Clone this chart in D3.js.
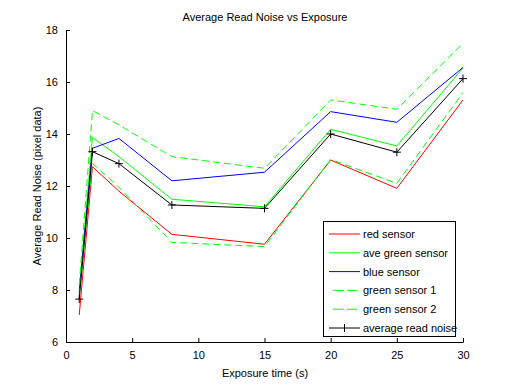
<!DOCTYPE html>
<html><head><meta charset="utf-8">
<script src="https://cdn.jsdelivr.net/npm/d3@7/dist/d3.min.js"></script>
<style>body{margin:0;background:#fff}svg{display:block}text{font-family:"Liberation Sans",Arial,sans-serif}</style>
</head><body>
<script>
const exposure = [1, 2, 4, 8, 15, 20, 25, 30];
const redSensor = [7.04, 12.74, 11.8, 10.14, 9.76, 13.0, 11.91, 15.31];
const aveGreen = [8.0, 13.87, 13.13, 11.49, 11.2, 14.18, 13.54, 16.54];
const blueSensor = [7.9, 13.45, 13.83, 12.2, 12.53, 14.86, 14.45, 16.56];
const green1 = [8.2, 14.9, 14.35, 13.13, 12.68, 15.31, 14.95, 17.49];
const green2 = [7.8, 12.87, 11.95, 9.83, 9.67, 13.02, 12.1, 15.59];
const averageNoise = [7.65, 13.32, 12.86, 11.27, 11.14, 14.0, 13.3, 16.13];
const xTicks = [0, 5, 10, 15, 20, 25, 30];
const yTicks = [6, 8, 10, 12, 14, 16, 18];
const seriesNames = ["red sensor", "ave green sensor", "blue sensor", "green sensor 1", "green sensor 2", "average read noise"];

const W = 512, H = 385;
const svg = d3.select("body").append("svg").attr("width", W).attr("height", H);
const x = d3.scaleLinear().domain([0, 30]).range([66, 463]);
const y = d3.scaleLinear().domain([6, 18]).range([342, 30]);

const series = [
  {name: seriesNames[0], vals: redSensor, color: "#ff0000", dash: null},
  {name: seriesNames[1], vals: aveGreen, color: "#00ff00", dash: null},
  {name: seriesNames[2], vals: blueSensor, color: "#0000ff", dash: null},
  {name: seriesNames[3], vals: green1, color: "#00ff00", dash: "7,4"},
  {name: seriesNames[4], vals: green2, color: "#00ff00", dash: "7,4"},
  {name: seriesNames[5], vals: averageNoise, color: "#000000", dash: null, marker: true}
];

const line = d3.line().x(d => x(d[0])).y(d => y(d[1]));
series.forEach(s => {
  const pts = exposure.map((e, i) => [e, s.vals[i]]);
  svg.append("path").attr("d", line(pts)).attr("fill", "none")
    .attr("stroke", s.color).attr("stroke-width", 1)
    .attr("stroke-dasharray", s.dash);
  if (s.marker) {
    pts.forEach(p => {
      const cx = x(p[0]), cy = y(p[1]);
      svg.append("path").attr("d", `M${cx-4},${cy}H${cx+4}M${cx},${cy-4}V${cy+4}`)
        .attr("stroke", s.color).attr("stroke-width", 1);
    });
  }
});

// axes
const xAxis = d3.axisBottom(x).tickValues(xTicks).tickSizeInner(-4).tickSizeOuter(0).tickPadding(9);
const yAxis = d3.axisLeft(y).tickValues(yTicks).tickSizeInner(-4).tickSizeOuter(0).tickPadding(8);
const gx = svg.append("g").attr("transform", "translate(0,342)").call(xAxis);
const gy = svg.append("g").attr("transform", "translate(66,0)").call(yAxis);
[gx, gy].forEach(g => {
  g.selectAll("text").attr("font-size", 11).attr("fill", "#000")
    .style("font-family", '"Liberation Sans",Arial,sans-serif');
  g.selectAll("line,path").attr("stroke", "#000");
});

svg.append("text").attr("x", 265).attr("y", 21).attr("text-anchor", "middle")
  .attr("font-size", 11).text("Average Read Noise vs Exposure");
svg.append("text").attr("x", 265).attr("y", 377).attr("text-anchor", "middle")
  .attr("font-size", 11).text("Exposure time (s)");
svg.append("text").attr("transform", "translate(41,186) rotate(-90)").attr("text-anchor", "middle")
  .attr("font-size", 11).text("Average Read Noise (pixel data)");

// legend
const lg = svg.append("g");
lg.append("rect").attr("x", 323.5).attr("y", 221.5).attr("width", 132).attr("height", 115)
  .attr("fill", "#fff").attr("stroke", "#000");
series.forEach((s, i) => {
  const ly = 234 + i * 18.8;
  lg.append("line").attr("x1", s.dash ? 333 : 329).attr("x2", s.dash ? 357 : 360).attr("y1", ly).attr("y2", ly)
    .attr("stroke", s.color).attr("stroke-dasharray", s.dash ? "11,3" : null);
  if (s.marker) {
    lg.append("path").attr("d", `M344.5,${ly-4}V${ly+4}`).attr("stroke", s.color);
  }
  lg.append("text").attr("x", 363).attr("y", ly + 4).attr("font-size", 11).text(s.name);
});
</script>
</body></html>
